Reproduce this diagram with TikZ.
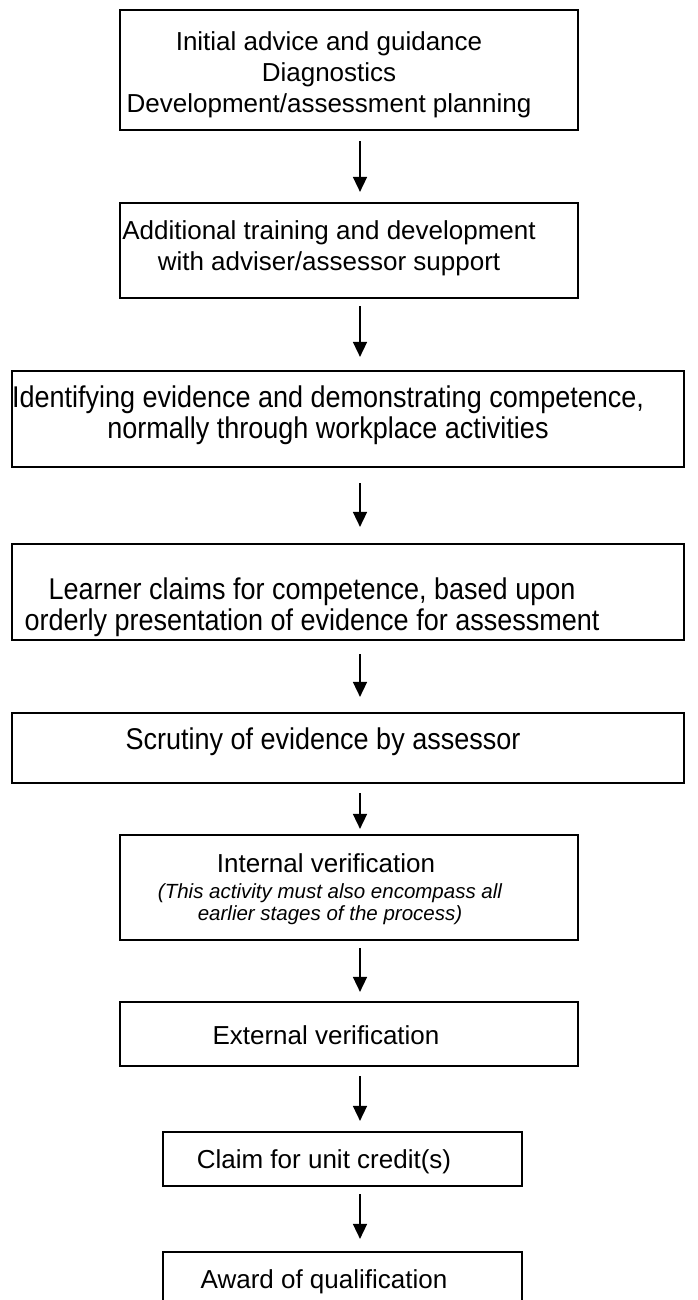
\documentclass[tikz,border=0pt]{standalone}
\usepackage{fontspec}
\setmainfont{Liberation Sans}
\newfontfamily\narrowfont[FakeStretch=0.9]{Liberation Sans}
\usetikzlibrary{arrows.meta}

\begin{document}
\begin{tikzpicture}[x=1pt, y=-1pt,
  stagebox/.style={draw, line width=2.2pt, inner sep=0pt},
  stagetext/.style={inner sep=0pt, align=center, font=\fontsize{26}{31}\selectfont},
  widetext/.style={inner sep=0pt, align=center, font=\narrowfont\fontsize{30}{31}\selectfont},
  notetext/.style={inner sep=0pt, align=center, font=\itshape\fontsize{20.5}{22}\selectfont},
  flow/.style={-{Triangle[width=14pt,length=15pt]}, line width=1.6pt}]

  % Page with white background
  \path[fill=white, use as bounding box] (0,0) rectangle (697,1300);

  % Draw the stage boxes
  \node[stagebox, minimum width=458pt, minimum height=120pt] (b1) at (349,70) {};
  \node[stagebox, minimum width=458pt, minimum height=95pt] (b2) at (349,250.5) {};
  \node[stagebox, minimum width=672pt, minimum height=96pt] (b3) at (348,419) {};
  \node[stagebox, minimum width=672pt, minimum height=96pt] (b4) at (348,592) {};
  \node[stagebox, minimum width=672pt, minimum height=70pt] (b5) at (348,748) {};
  \node[stagebox, minimum width=458pt, minimum height=105pt] (b6) at (349,887.5) {};
  \node[stagebox, minimum width=458pt, minimum height=64pt] (b7) at (349,1034) {};
  \node[stagebox, minimum width=359pt, minimum height=54pt] (b8) at (342.5,1159) {};
  \node[stagebox, minimum width=359pt, minimum height=53pt] (b9) at (342.5,1278.5) {};

  % Texts in the boxes
  \node[stagetext] (t1) at (329,74.4) {Initial advice and guidance\\ Diagnostics\\ Development/assessment planning};
  \node[stagetext] (t2) at (329,248.5) {Additional training and development\\ with adviser/assessor support};
  \node[widetext] (t3) at (328,415) {Identifying evidence and demonstrating competence,\\ normally through workplace activities};
  \node[widetext] (t4) at (312,607) {Learner claims for competence, based upon\\ orderly presentation of evidence for assessment};
  \node[widetext] (t5) at (323,742) {Scrutiny of evidence by assessor};
  \node[stagetext] (t6) at (326,862.7) {Internal verification};
  \node[notetext] (n6) at (330,903.7) {(This activity must also encompass all\\ earlier stages of the process)};
  \node[stagetext] (t7) at (326,1035.6) {External verification};
  \node[stagetext] (t8) at (324,1161.4) {Claim for unit credit(s)};
  \node[stagetext] (t9) at (324,1281.4) {Award of qualification};

  % Arrows between the stages
  \coordinate (ax) at (360,0);
  \draw[flow, shorten <=10pt, shorten >=10pt] (b1.south -| ax) -- (b2.north -| ax);
  \draw[flow, shorten <=7pt, shorten >=13pt] (b2.south -| ax) -- (b3.north -| ax);
  \draw[flow, shorten <=15pt, shorten >=16pt] (b3.south -| ax) -- (b4.north -| ax);
  \draw[flow, shorten <=13pt, shorten >=15pt] (b4.south -| ax) -- (b5.north -| ax);
  \draw[flow, shorten <=9pt, shorten >=5pt] (b5.south -| ax) -- (b6.north -| ax);
  \draw[flow, shorten <=7pt, shorten >=9pt] (b6.south -| ax) -- (b7.north -| ax);
  \draw[flow, shorten <=9pt, shorten >=10pt] (b7.south -| ax) -- (b8.north -| ax);
  \draw[flow, shorten <=7pt, shorten >=12pt] (b8.south -| ax) -- (b9.north -| ax);
\end{tikzpicture}
\end{document}
